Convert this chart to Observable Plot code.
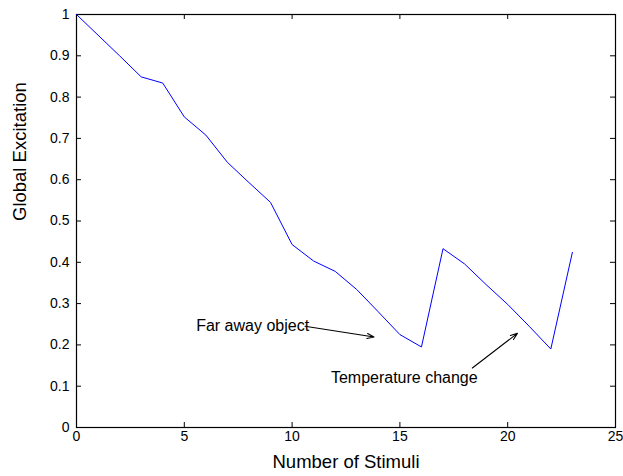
<!DOCTYPE html>
<html>
<head>
<meta charset="utf-8">
<script src="https://cdn.jsdelivr.net/npm/d3@7"></script>
<script src="https://cdn.jsdelivr.net/npm/@observablehq/plot@0.6"></script>
<style>
  html, body { margin: 0; padding: 0; background: #fff; }
  #chart svg { display: block; }
</style>
</head>
<body>
<div id="chart"></div>
<script>
const stimuli = [0, 1, 2, 3, 4, 5, 6, 7, 8, 9, 10, 11, 12, 13, 14, 15, 16, 17, 18, 19, 20, 21, 22, 23];
const excitation = [1.0, 0.95, 0.90, 0.849, 0.834, 0.752, 0.708, 0.642, 0.593, 0.545, 0.443, 0.403, 0.378, 0.334, 0.280, 0.225, 0.195, 0.433, 0.396, 0.346, 0.298, 0.245, 0.190, 0.424];
const xTicks = [0, 5, 10, 15, 20, 25];
const yTicks = [0, 0.1, 0.2, 0.3, 0.4, 0.5, 0.6, 0.7, 0.8, 0.9, 1];
const annotationLabels = ["Far away object", "Temperature change"];
const annotationTextX = [5.55, 11.8];
const annotationTextY = [0.247, 0.119];
const arrowFromX = [10.6, 18.36];
const arrowFromY = [0.245, 0.144];
const arrowToX = [13.8, 20.45];
const arrowToY = [0.219, 0.228];

const series = stimuli.map((s, i) => ({x: s, y: excitation[i]}));
const notes = annotationLabels.map((t, i) => ({text: t, x: annotationTextX[i], y: annotationTextY[i]}));
const arrows = arrowFromX.map((v, i) => ({x1: v, y1: arrowFromY[i], x2: arrowToX[i], y2: arrowToY[i]}));

const W = 623, H = 476;
const mL = 76, mR = 8, mT = 14, mB = 49;
const innerH = H - mT - mB, innerW = W - mL - mR;
const tk = 5;

const chart = Plot.plot({
  width: W,
  height: H,
  marginLeft: mL,
  marginRight: mR,
  marginTop: mT,
  marginBottom: mB,
  style: {fontFamily: "'Liberation Sans', Arial, sans-serif", fontSize: "14px", color: "black", background: "white"},
  x: {domain: [0, 25]},
  y: {domain: [0, 1]},
  marks: [
    Plot.axisX({ticks: xTicks, tickSize: 0, tickPadding: 4, fontSize: 14, label: null}),
    Plot.axisY({ticks: yTicks, tickSize: 0, tickPadding: 7, fontSize: 14, label: null, tickFormat: d => String(+d.toFixed(1))}),
    Plot.tickX(xTicks, {x: d => d, insetTop: innerH - tk, stroke: "black"}),
    Plot.tickX(xTicks, {x: d => d, insetBottom: innerH - tk, stroke: "black"}),
    Plot.tickY(yTicks, {y: d => d, insetRight: innerW - tk, stroke: "black"}),
    Plot.tickY(yTicks, {y: d => d, insetLeft: innerW - tk, stroke: "black"}),
    Plot.frame({stroke: "black", strokeWidth: 1.2}),
    Plot.line(series, {x: "x", y: "y", stroke: "#0000ff", strokeWidth: 1}),
    Plot.text(notes, {x: "x", y: "y", text: "text", textAnchor: "start", fontSize: 16, fill: "black"}),
    Plot.arrow(arrows, {x1: "x1", y1: "y1", x2: "x2", y2: "y2", stroke: "black", strokeWidth: 1.1, headLength: 10, headAngle: 40}),
    Plot.text(["Number of Stimuli"], {frameAnchor: "bottom", dy: 40, fontSize: 18.5, fill: "black"}),
    Plot.text(["Global Excitation"], {frameAnchor: "left", dx: -56, rotate: -90, fontSize: 18.5, fill: "black"})
  ]
});
document.getElementById("chart").appendChild(chart);
</script>
</body>
</html>
